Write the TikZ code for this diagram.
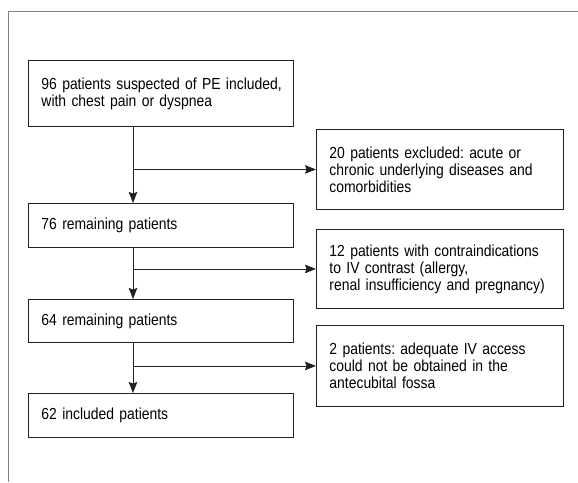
\documentclass[tikz,border=0pt]{standalone}
\usepackage{fontspec}
\setmainfont[FakeStretch=0.87]{Liberation Sans}
\usetikzlibrary{arrows.meta}
\definecolor{ink}{HTML}{222222}
\frenchspacing
\begin{document}
\begin{tikzpicture}[x=1pt,y=1pt,
  mainbox/.style={draw=ink,line width=0.9pt,anchor=north west,align=left,inner xsep=13pt,inner ysep=0pt,
    text width=239pt,minimum width=265pt,font=\fontsize{16}{17}\selectfont\frenchspacing,text=black},
  exbox/.style={mainbox,text width=221pt,minimum width=247pt,minimum height=80pt},
  arr/.style={draw=ink,line width=0.8pt,-{Stealth[length=11pt,width=8.5pt,inset=1.5pt]}}]
\useasboundingbox (0,0) rectangle (578,-482);
\draw[gray,line width=0.8pt] (8,-482) -- (8,-11) -- (578,-11);
\node[mainbox,minimum height=66pt] (b1) at (28,-60) {\mbox{96 patients suspected of PE included,}\\with chest pain or dyspnea};
\node[mainbox,minimum height=44pt] (b2) at (28,-203) {76 remaining patients};
\node[mainbox,minimum height=43pt] (b3) at (28,-299) {64 remaining patients};
\node[mainbox,minimum height=44pt] (b4) at (28,-393) {62 included patients};
\node[exbox] (e1) at (316,-129) {\mbox{20 patients excluded: acute or}\\\mbox{chronic underlying diseases and}\\comorbidities};
\node[exbox,minimum height=79pt] (e2) at (316,-229) {\mbox{12 patients with contraindications}\\\mbox{to IV contrast (allergy,}\\\mbox{renal insufficiency and pregnancy)}};
\node[exbox,minimum height=81pt] (e3) at (316,-325) {\mbox{2 patients: adequate IV access}\\\mbox{could not be obtained in the}\\antecubital fossa};
\coordinate (v) at (133,0);
\draw[arr] (b1.south -| v) -- (b2.north -| v);
\draw[arr] (b2.south -| v) -- (b3.north -| v);
\draw[arr] (b3.south -| v) -- (b4.north -| v);
\draw[arr] (e1.west -| v) -- (e1.west);
\draw[arr] (e2.west -| v) -- (e2.west);
\draw[arr] (e3.west -| v) -- (e3.west);
\end{tikzpicture}
\end{document}
